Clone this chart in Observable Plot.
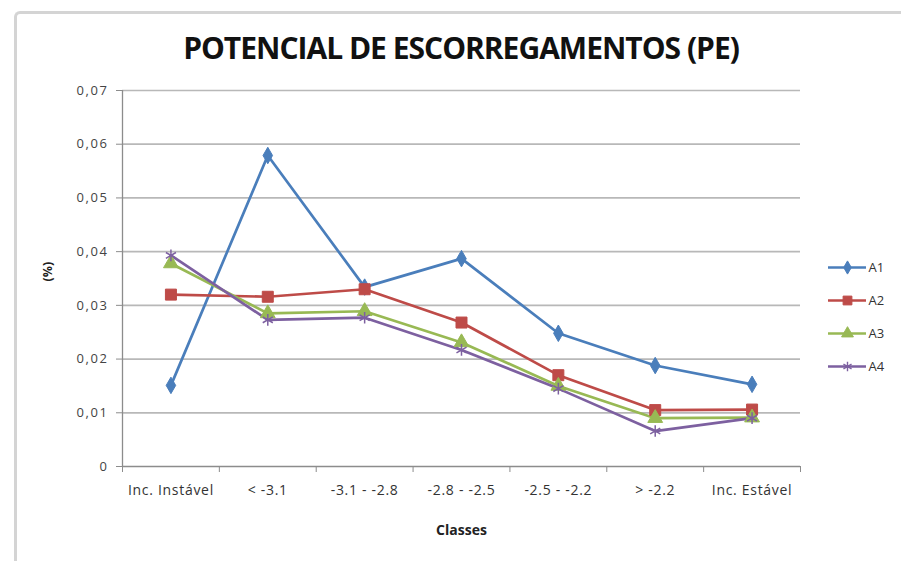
<!DOCTYPE html>
<html><head><meta charset="utf-8">
<script src="https://cdn.jsdelivr.net/npm/d3@7"></script>
<script src="https://cdn.jsdelivr.net/npm/@observablehq/plot@0.6"></script>
<style>
body{margin:0;background:#fff;font-family:"Open Sans",sans-serif;}
#wrap{position:relative;width:901px;height:561px;overflow:hidden;background:#fff;}
#frame{position:absolute;left:14px;top:11px;width:900px;height:560px;border-left:3px solid #d4d4d4;border-top:3px solid #d4d4d4;border-top-left-radius:6px;}
#title{position:absolute;left:0;width:922px;top:28px;line-height:40px;text-align:center;font-weight:700;font-size:30px;color:#111;letter-spacing:-1px;}
#main{position:absolute;left:0;top:0;}
#legend{position:absolute;left:820px;top:248px;}
g[aria-label="y-axis tick label"] text{letter-spacing:1.6px;}
g[aria-label="x-axis tick label"] text{letter-spacing:0.7px;}
g[aria-label="classes"] text{letter-spacing:0.3px;}
g[aria-label="legend labels"] text{letter-spacing:1.2px;}
</style></head>
<body><div id="wrap"><div id="frame"></div><div id="title">POTENCIAL DE ESCORREGAMENTOS (PE)</div><div id="main"></div><div id="legend"></div></div>
<script>
const categories = ["Inc. Instável", "< -3.1", "-3.1 - -2.8", "-2.8 - -2.5", "-2.5 - -2.2", "> -2.2", "Inc. Estável"];
const seriesNames = ["A1", "A2", "A3", "A4"];
const A1 = [0.0151, 0.0579, 0.0334, 0.0387, 0.0248, 0.0188, 0.0153];
const A2 = [0.0320, 0.0316, 0.0330, 0.0268, 0.0170, 0.0105, 0.0106];
const A3 = [0.0378, 0.0285, 0.0289, 0.0231, 0.0150, 0.0090, 0.0091];
const A4 = [0.0393, 0.0273, 0.0277, 0.0217, 0.0145, 0.0066, 0.0090];
const yTicks = [0, 0.01, 0.02, 0.03, 0.04, 0.05, 0.06, 0.07];
const colors = ["#4a7ebb", "#be4b48", "#98b954", "#7d60a0"];
const symbols = ["diamond", "square", "triangle", "asterisk"];
const symSizes = [5, 6.2, 5.5, 5.5];

const seriesValues = [A1, A2, A3, A4];
const data = seriesNames.flatMap((s, si) => seriesValues[si].map((v, i) => ({series: s, i, v})));
const idx = categories.map((_, i) => i);
const bounds = [...categories.map((_, i) => i - 0.5), categories.length - 0.5];
const fmt = v => v === 0 ? "0" : v.toFixed(2).replace(".", ",");
const hollow = s => s === "asterisk";

const markMarks = seriesNames.map((s, si) => Plot.dot(data.filter(d => d.series === s), {
  x: "i", y: "v", symbol: () => symbols[si], r: symSizes[si],
  fill: hollow(symbols[si]) ? "none" : colors[si],
  stroke: colors[si], strokeWidth: hollow(symbols[si]) ? 1.5 : 1
}));

const chart = Plot.plot({
  width: 901, height: 561,
  marginLeft: 122, marginRight: 101, marginTop: 90, marginBottom: 95,
  style: {fontFamily: "Open Sans, sans-serif", background: "transparent"},
  x: {type: "linear", domain: [-0.5, categories.length - 0.5]},
  y: {domain: [0, 0.07]},
  symbol: {type: "identity"},
  marks: [
    Plot.gridY(yTicks.filter(t => t > 0), {stroke: "#b8b8b8", strokeOpacity: 1, strokeWidth: 1.7}),
    Plot.ruleY([0], {stroke: "#8c8c8c", strokeWidth: 1.3}),
    Plot.ruleX([bounds[0]], {stroke: "#8c8c8c", strokeWidth: 1.3}),
    Plot.axisY({ticks: yTicks, tickFormat: fmt, tickSize: 6, tickPadding: 8, stroke: "#8c8c8c", fill: "#444", fontSize: 13, label: null}),
    Plot.axisX({ticks: bounds, tickFormat: () => "", tickSize: 6, stroke: "#8c8c8c", label: null}),
    Plot.axisX({ticks: idx, tickFormat: i => categories[i], tickSize: 0, tickPadding: 19, fill: "#333", fontSize: 14, label: null}),
    Plot.text(["Classes"], {frameAnchor: "bottom", dy: 68, text: d => d, fontWeight: "bold", fontSize: 14, fill: "#222", ariaLabel: "classes"}),
    Plot.text(["(%)"], {frameAnchor: "left", dx: -75, dy: 3, text: d => d, rotate: -90, fontWeight: "bold", fontSize: 12.5, fill: "#222"}),
    Plot.line(data, {x: "i", y: "v", z: "series", stroke: d => colors[seriesNames.indexOf(d.series)], strokeWidth: 2.7}),
    ...markMarks
  ]
});
document.getElementById("main").appendChild(chart);

const legend = Plot.plot({
  width: 81, height: 134, margin: 0, marginTop: 18, marginBottom: 15,
  style: {fontFamily: "Open Sans, sans-serif", background: "transparent"},
  x: {domain: [0, 1], range: [8, 46], axis: null},
  y: {type: "point", domain: seriesNames, padding: 0, axis: null},
  symbol: {type: "identity"},
  marks: [
    Plot.ruleY(seriesNames, {y: d => d, x1: 0, x2: 1, stroke: d => colors[seriesNames.indexOf(d)], strokeWidth: 2.7}),
    ...seriesNames.map((s, si) => Plot.dot([s], {x: 0.5, y: d => d, symbol: () => symbols[si], r: symSizes[si] * 0.8,
      fill: hollow(symbols[si]) ? "none" : colors[si], stroke: colors[si], strokeWidth: hollow(symbols[si]) ? 1.4 : 1})),
    Plot.text(seriesNames, {x: 1, y: d => d, text: d => d, dx: 2, textAnchor: "start", fontSize: 13, fill: "#333", ariaLabel: "legend labels"})
  ]
});
document.getElementById("legend").appendChild(legend);
</script></body></html>
